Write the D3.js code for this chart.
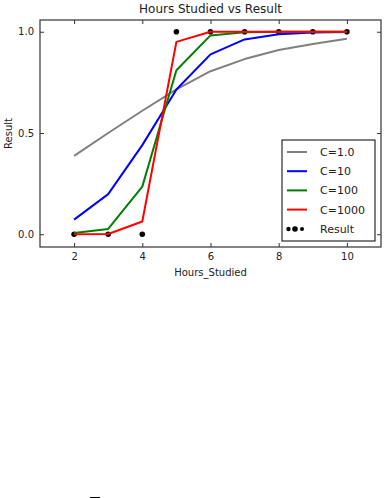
<!DOCTYPE html>
<html>
<head>
<meta charset="utf-8">
<script src="https://cdn.jsdelivr.net/npm/d3@7"></script>
<style>
  body { margin: 0; background: #fff; }
  text { font-family: "DejaVu Sans", sans-serif; fill: #222; }
</style>
</head>
<body>
<script>
// data
var hours = [2, 3, 4, 5, 6, 7, 8, 9, 10];
var result = [0, 0, 0, 1, 1, 1, 1, 1, 1];
var c1 = [0.387, 0.50, 0.61, 0.715, 0.805, 0.865, 0.91, 0.94, 0.965];
var c10 = [0.072, 0.198, 0.44, 0.715, 0.888, 0.962, 0.988, 0.996, 0.999];
var c100 = [0.006, 0.026, 0.235, 0.81, 0.982, 0.998, 1.0, 1.0, 1.0];
var c1000 = [0.0, 0.001, 0.063, 0.95, 0.9998, 1.0, 1.0, 1.0, 1.0];
var seriesNames = ["C=1.0", "C=10", "C=100", "C=1000"];
var seriesColors = ["#808080", "#0000ff", "#008000", "#ff0000"];
var xTicks = [2, 4, 6, 8, 10];
var yTicks = [0.0, 0.5, 1.0];

var series = [c1, c10, c100, c1000];

var svg = d3.select("body").append("svg")
  .attr("width", 385)
  .attr("height", 498);

var plotLeft = 40, plotRight = 381, plotTop = 20, plotBottom = 247;

var x = d3.scaleLinear().domain([1, 11]).range([plotLeft, plotRight]);
var y = d3.scaleLinear().domain([-0.063, 1.058]).range([plotBottom, plotTop]);

// title and axis labels
svg.append("text")
  .attr("x", (plotLeft + plotRight) / 2).attr("y", 13)
  .attr("text-anchor", "middle")
  .style("font-size", "12px")
  .text("Hours Studied vs Result");

svg.append("text")
  .attr("x", (plotLeft + plotRight) / 2).attr("y", 276)
  .attr("text-anchor", "middle")
  .style("font-size", "10px")
  .text("Hours_Studied");

svg.append("text")
  .attr("transform", "translate(12," + ((plotTop + plotBottom) / 2) + ") rotate(-90)")
  .attr("text-anchor", "middle")
  .style("font-size", "10px")
  .text("Result");

// scatter first, lines on top
var plot = svg.append("g");

plot.selectAll("circle.result")
  .data(hours)
  .enter()
  .append("circle")
  .attr("class", "result")
  .attr("cx", function(d) { return x(d); })
  .attr("cy", function(d, i) { return y(result[i]); })
  .attr("r", 2.8)
  .attr("fill", "#000");

var line = d3.line()
  .x(function(d, i) { return x(hours[i]); })
  .y(function(d) { return y(d); });

series.forEach(function(s, k) {
  plot.append("path")
    .datum(s)
    .attr("d", line)
    .attr("fill", "none")
    .attr("stroke", seriesColors[k])
    .attr("stroke-width", 2)
    .attr("stroke-linejoin", "round");
});

// axes, ticks pointing inwards on all four sides
var tickLen = 4;
svg.append("g")
  .attr("transform", "translate(0," + plotBottom + ")")
  .call(d3.axisBottom(x).tickValues(xTicks).tickSize(-tickLen).tickPadding(6).tickFormat(d3.format("d")))
  .call(function(g) { g.select(".domain").remove(); });

svg.append("g")
  .attr("transform", "translate(0," + plotTop + ")")
  .call(d3.axisTop(x).tickValues(xTicks).tickSize(-tickLen).tickFormat(""))
  .call(function(g) { g.select(".domain").remove(); });

svg.append("g")
  .attr("transform", "translate(" + plotLeft + ",0)")
  .call(d3.axisLeft(y).tickValues(yTicks).tickSize(-tickLen).tickPadding(6).tickFormat(d3.format(".1f")))
  .call(function(g) { g.select(".domain").remove(); });

svg.append("g")
  .attr("transform", "translate(" + plotRight + ",0)")
  .call(d3.axisRight(y).tickValues(yTicks).tickSize(-tickLen).tickFormat(""))
  .call(function(g) { g.select(".domain").remove(); });

svg.selectAll(".tick text").style("font-size", "10px").attr("fill", "#222");
svg.selectAll(".tick line").attr("stroke", "#333");

svg.append("rect")
  .attr("x", plotLeft).attr("y", plotTop)
  .attr("width", plotRight - plotLeft).attr("height", plotBottom - plotTop)
  .attr("fill", "none")
  .attr("stroke", "#333")
  .attr("stroke-width", 1.2);

// legend
var lg = svg.append("g").attr("transform", "translate(282,140)");
lg.append("rect")
  .attr("width", 93).attr("height", 101)
  .attr("fill", "#fff")
  .attr("stroke", "#000")
  .attr("stroke-width", 1);

seriesNames.forEach(function(name, k) {
  var ry = 12 + k * 19.2;
  lg.append("line")
    .attr("x1", 5).attr("x2", 25)
    .attr("y1", ry).attr("y2", ry)
    .attr("stroke", seriesColors[k])
    .attr("stroke-width", 2);
  lg.append("text")
    .attr("x", 38).attr("y", ry + 4)
    .style("font-size", "11px")
    .text(name);
});

var dotSizes = [2.2, 2.8, 2.0];
var dotX = [6.5, 13, 20];
dotSizes.forEach(function(r, i) {
  lg.append("circle")
    .attr("cx", dotX[i]).attr("cy", 89)
    .attr("r", r)
    .attr("fill", "#000");
});
lg.append("text")
  .attr("x", 38).attr("y", 93)
  .style("font-size", "11px")
  .text("Result");

// small stray dash near the bottom of the image
svg.append("line")
  .attr("x1", 90).attr("x2", 100)
  .attr("y1", 497.5).attr("y2", 497.5)
  .attr("stroke", "#000")
  .attr("stroke-width", 1);
</script>
</body>
</html>
